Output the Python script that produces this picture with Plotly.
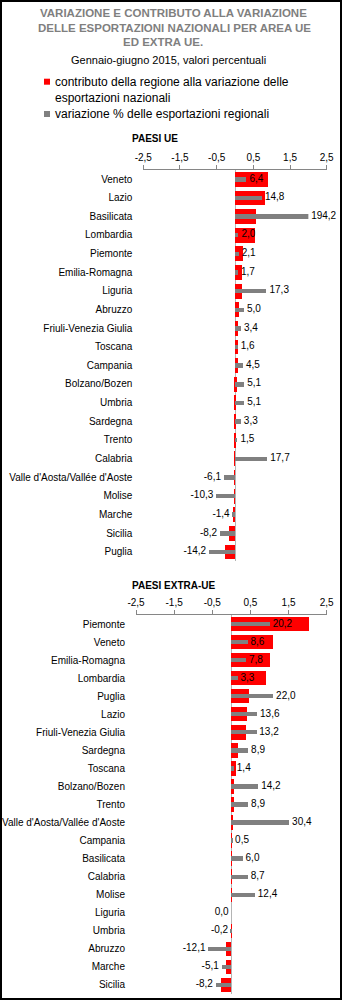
import plotly.graph_objects as go

# Figure size in pixels
W, H = 342, 1000

# --- Data: EU countries ---
ue_regions = [
    "Veneto", "Lazio", "Basilicata", "Lombardia", "Piemonte", "Emilia-Romagna",
    "Liguria", "Abruzzo", "Friuli-Venezia Giulia", "Toscana", "Campania",
    "Bolzano/Bozen", "Umbria", "Sardegna", "Trento", "Calabria",
    "Valle d'Aosta/Vallée d'Aoste", "Molise", "Marche", "Sicilia", "Puglia",
]
ue_contrib = [
    0.91, 0.82, 0.58, 0.54, 0.23, 0.21,
    0.20, 0.12, 0.10, 0.09, 0.08,
    0.05, 0.04, 0.02, 0.01, 0.005,
    -0.003, -0.01, -0.05, -0.15, -0.27,
]
ue_var = [
    6.4, 14.8, 194.2, 2.0, 2.1, 1.7,
    17.3, 5.0, 3.4, 1.6, 4.5,
    5.1, 5.1, 3.3, 1.5, 17.7,
    -6.1, -10.3, -1.4, -8.2, -14.2,
]

# --- Data: non-EU countries ---
extra_regions = [
    "Piemonte", "Veneto", "Emilia-Romagna", "Lombardia", "Puglia", "Lazio",
    "Friuli-Venezia Giulia", "Sardegna", "Toscana", "Bolzano/Bozen", "Trento",
    "Valle d'Aosta/Vallée d'Aoste", "Campania", "Basilicata", "Calabria",
    "Molise", "Liguria", "Umbria", "Abruzzo", "Marche", "Sicilia",
]
extra_contrib = [
    2.04, 1.08, 1.02, 0.92, 0.46, 0.42,
    0.39, 0.17, 0.13, 0.08, 0.06,
    0.04, 0.01, 0.008, 0.005,
    0.004, 0.0, -0.001, -0.13, -0.14, -0.28,
]
extra_var = [
    20.2, 8.6, 7.8, 3.3, 22.0, 13.6,
    13.2, 8.9, 1.4, 14.2, 8.9,
    30.4, 0.5, 6.0, 8.7,
    12.4, 0.0, -0.2, -12.1, -5.1, -8.2,
]

# Contribution axis ticks
axis_tickvals = [-2.5, -1.5, -0.5, 0.5, 1.5, 2.5]
axis_ticktext = ["-2,5", "-1,5", "-0,5", "0,5", "1,5", "2,5"]

FONT = "Liberation Sans, Arial, sans-serif"
RED = "#ff0000"
GREY = "#808080"
AXIS_GREY = "#868686"
TITLE_GREY = "#7f7f7f"
SMALL = 10
NBSP = "\u00a0"


def fx(px):
    return px / W


def fy(py):
    return 1 - py / H


def fmt(v):
    s = f"{v:.1f}".replace(".", ",")
    # keep a small gap between the bar end and its label
    return NBSP + s if v > 0 else s + NBSP


def panel(regions, contrib, var, xa, xb, ya, var_max):
    """Red contribution bars, grey variation bars and their value labels."""
    red = go.Bar(
        y=regions, x=contrib, orientation="h", width=0.8,
        marker=dict(color=RED, line=dict(width=0)),
        xaxis=xa, yaxis=ya, showlegend=False, hoverinfo="skip",
    )
    grey = go.Bar(
        y=regions, x=var, orientation="h", width=0.24,
        marker=dict(color=GREY, line=dict(width=0)),
        xaxis=xb, yaxis=ya, showlegend=False, hoverinfo="skip",
    )
    labels = go.Scatter(
        y=regions, x=[min(v, var_max) for v in var], mode="text",
        text=[fmt(v) for v in var],
        textposition=["middle right" if v > 0 else "middle left" for v in var],
        textfont=dict(family=FONT, size=SMALL, color="black"),
        xaxis=xb, yaxis=ya, showlegend=False, hoverinfo="skip", cliponaxis=False,
    )
    return [red, grey, labels]


fig = go.Figure()
for t in panel(ue_regions, ue_contrib, ue_var, "x", "x2", "y", 40):
    fig.add_trace(t)
for t in panel(extra_regions, extra_contrib, extra_var, "x3", "x4", "y2", 50):
    fig.add_trace(t)

contrib_axis = dict(
    range=[-2.5, 2.5], side="top", tickvals=axis_tickvals, ticktext=axis_ticktext,
    ticks="outside", ticklen=4, tickcolor=AXIS_GREY, tickwidth=1,
    showline=True, linecolor=AXIS_GREY, linewidth=1,
    showgrid=False, zeroline=True, zerolinecolor="#b4b4b4", zerolinewidth=1,
    tickfont=dict(family=FONT, size=SMALL, color="black"), automargin=False,
    fixedrange=True,
)
cat_axis = dict(
    type="category", showgrid=False, showline=False, zeroline=False, ticks="",
    ticklabelstandoff=10, tickfont=dict(family=FONT, size=SMALL, color="black"),
    automargin=False, fixedrange=True,
)

ue_left, ue_right = 143.3, 326.7
ex_left, ex_right = 136.0, 326.7

fig.update_layout(
    width=W, height=H, margin=dict(l=0, r=0, t=0, b=0),
    paper_bgcolor="white", plot_bgcolor="rgba(0,0,0,0)",
    separators=",.", showlegend=False, bargap=0,
    font=dict(family=FONT, size=SMALL, color="black"),
    xaxis=dict(domain=[fx(ue_left), fx(ue_right)], anchor="y", **contrib_axis),
    # variation axis: 20 percentage points per contribution unit, capped at 40%
    xaxis2=dict(domain=[fx(ue_left), fx(ue_left + (ue_right - ue_left) * 0.9)],
                range=[-50, 40], anchor="y", visible=False, fixedrange=True),
    yaxis=dict(domain=[fy(561.0), fy(169.7)], anchor="x",
               categoryorder="array", categoryarray=ue_regions,
               range=[len(ue_regions) - 0.5, -0.5], **cat_axis),
    xaxis3=dict(domain=[fx(ex_left), fx(ex_right)], anchor="y2", **contrib_axis),
    xaxis4=dict(domain=[fx(ex_left), fx(ex_right)], range=[-50, 50],
                anchor="y2", visible=False, fixedrange=True),
    yaxis2=dict(domain=[fy(994.0), fy(615.0)], anchor="x3",
                categoryorder="array", categoryarray=extra_regions,
                range=[len(extra_regions) - 0.5, -0.5], **cat_axis),
)

ann = []


def text(s, x, y, size=SMALL, color="black", xanchor="left", bold=False):
    ann.append(dict(
        text=f"<b>{s}</b>" if bold else s, x=fx(x), y=fy(y), xref="paper", yref="paper",
        xanchor=xanchor, yanchor="middle", showarrow=False,
        font=dict(family=FONT, size=size, color=color),
    ))


# Title block
text("VARIAZIONE E CONTRIBUTO ALLA VARIAZIONE", 173, 13.5, 11.5, TITLE_GREY, "center", True)
text("DELLE ESPORTAZIONI NAZIONALI PER AREA UE", 174.5, 28.3, 11.5, TITLE_GREY, "center", True)
text("ED EXTRA UE.", 163, 42.5, 11.5, TITLE_GREY, "center", True)
text("Gennaio-giugno 2015, valori percentuali", 168, 60, 11, "black", "center")

# Legend
text("contributo della regione alla variazione delle", 53.3, 81.7, 12)
text("esportazioni nazionali", 53.0, 97.5, 12)
text("variazione % delle esportazioni regionali", 53.3, 114, 12)

# Panel headings
text("PAESI UE", 130, 138.5, SMALL, "black", "left", True)
text("PAESI EXTRA-UE", 130, 585, SMALL, "black", "left", True)

shapes = [
    dict(type="rect", xref="paper", yref="paper",
         x0=fx(44), x1=fx(50), y0=fy(84.7), y1=fy(78.7),
         fillcolor=RED, line=dict(width=0)),
    dict(type="rect", xref="paper", yref="paper",
         x0=fx(44), x1=fx(50), y0=fy(117), y1=fy(111),
         fillcolor=GREY, line=dict(width=0)),
    # outer frame
    dict(type="rect", xref="paper", yref="paper",
         x0=fx(1), x1=fx(341), y0=fy(999), y1=fy(1),
         line=dict(color="black", width=2), fillcolor="rgba(0,0,0,0)"),
]

fig.update_layout(annotations=ann, shapes=shapes)

fig.write_html("out.html")
